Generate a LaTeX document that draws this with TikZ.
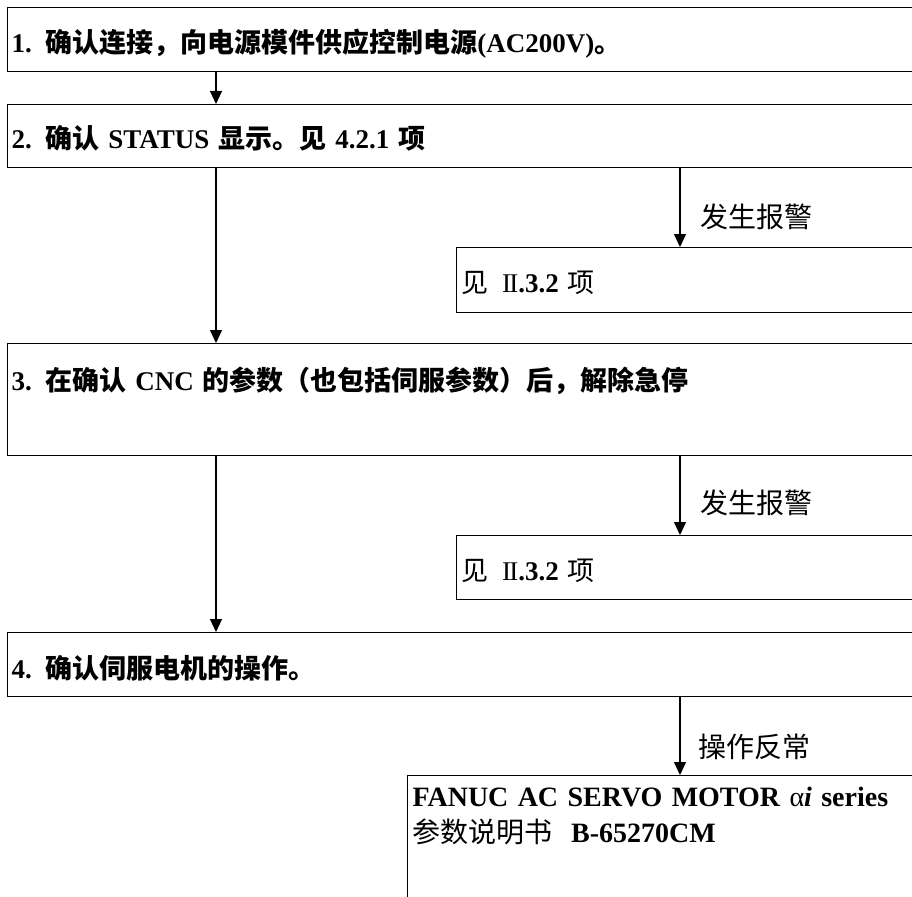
\documentclass[tikz,border=0pt]{standalone}
\usepackage{fontspec}
\setmainfont{Liberation Serif}
\newfontfamily\zhfont{Noto Sans CJK SC}
\newcommand{\zh}[1]{{\zhfont #1}}
\newcommand{\zhmd}[1]{{\zhfont\mdseries #1}}
\usetikzlibrary{arrows.meta}

\begin{document}
\begin{tikzpicture}[x=1pt,y=-1pt,
      stepbox/.style={draw,line width=1.1pt,anchor=north west,
        text width=990pt,align=left,inner xsep=4pt,inner ysep=0pt,
        font=\fontsize{27}{30}\selectfont\bfseries},
      seebox/.style={stepbox,inner xsep=5pt},
      flowarrow/.style={line width=1.1pt,-{Triangle[length=13pt,width=12pt]}},
      branchlabel/.style={anchor=west,inner sep=0pt,
        font=\fontsize{28}{32}\selectfont\zhfont}]
      \useasboundingbox (0,0) rectangle (912,896);
      \clip (0,0) rectangle (912,896);
      \coordinate (mainline) at (216,0);
      \coordinate (sideline) at (680,0);
      % main steps
      \path (7,7) node[stepbox,text height=45pt,text depth=19pt] (s1)
        {1.\enspace\zh{确认连接，向电源模件供应控制电源}(AC200V)\zh{。}};
      \path (7,104) node[stepbox,text height=44pt,text depth=19pt] (s2)
        {2.\enspace\zh{确认} STATUS \zh{显示。见} 4.2.1 \zh{项}};
      \path (7,343) node[stepbox,text height=47pt,text depth=65pt] (s3)
        {3.\enspace\zh{在确认} CNC \zh{的参数（也包括伺服参数）后，解除急停}};
      \path (7,632) node[stepbox,text height=46pt,text depth=18pt] (s4)
        {4.\enspace\zh{确认伺服电机的操作。}};
      % side boxes
      \path (456,247) node[seebox,text height=45pt,text depth=20pt] (a1)
        {\zhmd{见}\hspace{0.5em}{\mdseries I\kern-0.06em I}.3.2 \zhmd{项}};
      \path (456,535) node[seebox,text height=45pt,text depth=19pt] (a2)
        {\zhmd{见}\hspace{0.5em}{\mdseries I\kern-0.06em I}.3.2 \zhmd{项}};
      \path (407,775) node[seebox,inner ysep=12pt,text depth=140pt,
        font=\fontsize{28}{36}\selectfont\bfseries] (manual)
        {FANUC AC SERVO MOTOR {\mdseries α}\textit{i} series\\
         \zhmd{参数说明书}\ \ B-65270CM};
      % labels
      \path (700,217) node[branchlabel] (alarm1) {发生报警};
      \path (700,503) node[branchlabel] (alarm2) {发生报警};
      \path (698,747) node[branchlabel] (fault) {操作反常};
      % arrows
      \draw[flowarrow] (s1.south -| mainline) -- (s2.north -| mainline);
      \draw[flowarrow] (s2.south -| mainline) -- (s3.north -| mainline);
      \draw[flowarrow] (s3.south -| mainline) -- (s4.north -| mainline);
      \draw[flowarrow] (s2.south -| sideline) -- (a1.north -| sideline);
      \draw[flowarrow] (s3.south -| sideline) -- (a2.north -| sideline);
      \draw[flowarrow] (s4.south -| sideline) -- (manual.north -| sideline);
\end{tikzpicture}
\end{document}
